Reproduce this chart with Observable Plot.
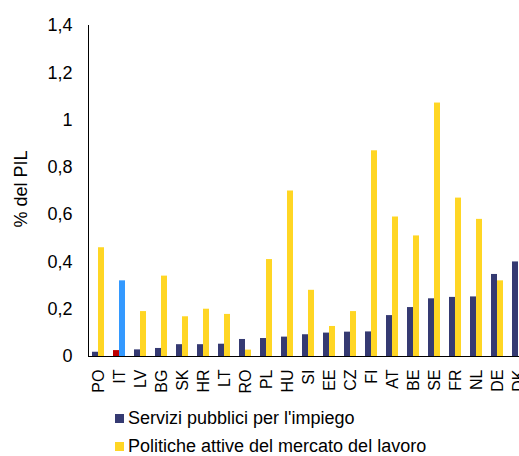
<!DOCTYPE html>
<html>
<head>
<meta charset="utf-8">
<script src="https://cdn.jsdelivr.net/npm/d3@7"></script>
<script src="https://cdn.jsdelivr.net/npm/@observablehq/plot@0.6"></script>
<style>
  html, body { margin: 0; padding: 0; background: #fff; }
  #wrap { width: 519px; height: 456px; overflow: hidden; position: relative; font-family: "Liberation Sans", Arial, sans-serif; }
  .legend { position: absolute; left: 115px; font-size: 18px; line-height: 20px; color: #000; display: flex; align-items: center; white-space: nowrap; }
  .legend .sw { width: 9px; height: 9px; margin-right: 4px; }
</style>
</head>
<body>
<div id="wrap"></div>
<script>
const countries = ["PO","IT","LV","BG","SK","HR","LT","RO","PL","HU","SI","EE","CZ","FI","AT","BE","SE","FR","NL","DE","DK"];
const servizi   = [0.018,0.025,0.028,0.034,0.050,0.050,0.052,0.072,0.076,0.082,0.092,0.099,0.103,0.104,0.173,0.207,0.244,0.250,0.252,0.347,0.400];
const politiche = [0.46,0.32,0.19,0.34,0.168,0.20,0.178,0.027,0.41,0.70,0.28,0.127,0.19,0.87,0.59,0.51,1.072,0.67,0.58,0.32,null];
const seriesNames = ["Servizi pubblici per l'impiego", "Politiche attive del mercato del lavoro"];
const yLabel = "% del PIL";
const yTicks = [0, 0.2, 0.4, 0.6, 0.8, 1, 1.2, 1.4];
const highlight = "IT";

const colNavy = "#353a72", colYellow = "#ffd624", colRed = "#c00000", colBlue = "#3399ff";

const data = countries.map((c, i) => ({country: c, servizi: servizi[i], politiche: politiche[i]}));

const chart = Plot.plot({
  width: 519,
  height: 400,
  marginLeft: 88,
  marginTop: 25,
  marginBottom: 44,
  marginRight: 0,
  style: {fontFamily: "'Liberation Sans', Arial, sans-serif", fontSize: "16px", color: "#000", background: "#fff", overflow: "hidden"},
  x: {domain: countries, range: [88, 529], padding: 0, label: null, tickSize: 0, tickRotate: -90, tickPadding: 13},
  y: {domain: [0, 1.4], ticks: yTicks, tickFormat: d => String(+d.toFixed(1)).replace(".", ","), tickSize: 0, tickPadding: 16,
      label: null, line: true},
  marks: [
    Plot.barY(data, {x: "country", y: "servizi", fill: d => d.country === highlight ? colRed : colNavy, insetLeft: 4, insetRight: 11}),
    Plot.barY(data.filter(d => d.politiche != null), {x: "country", y: "politiche", fill: d => d.country === highlight ? colBlue : colYellow, insetLeft: 10, insetRight: 5}),
    Plot.ruleY([0], {stroke: "#000", strokeWidth: 1.2}),
    Plot.text([yLabel], {frameAnchor: "left", text: d => d, rotate: -90, textAnchor: "middle", dx: -67, dy: -2, fontSize: 18, fill: "#000"})
  ]
});
const wrap = document.getElementById("wrap");
wrap.appendChild(chart);
const yg = chart.querySelector("g[aria-label='y-axis tick label']");
if (yg) yg.setAttribute("font-size", "18");

[[seriesNames[0], colNavy, 408], [seriesNames[1], colYellow, 436]].forEach(([name, col, top]) => {
  const row = document.createElement("div");
  row.className = "legend";
  row.style.top = top + "px";
  row.innerHTML = `<span class="sw" style="background:${col}"></span><span></span>`;
  row.lastChild.textContent = name;
  wrap.appendChild(row);
});
</script>
</body>
</html>
